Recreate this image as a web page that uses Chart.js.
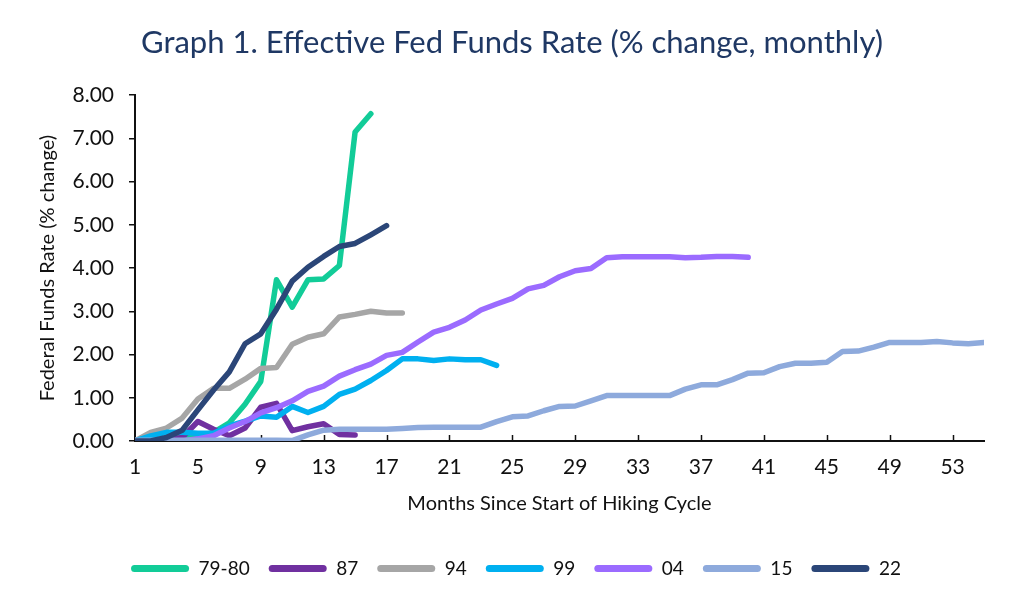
<!DOCTYPE html>
<html>
<head>
<meta charset="utf-8">
<script src="https://cdn.jsdelivr.net/npm/chart.js@4.4.1/dist/chart.umd.min.js"></script>
<style>
  html, body { margin: 0; padding: 0; background: #fff; }
  #wrap { width: 1024px; height: 606px; }
</style>
</head>
<body>
<div id="wrap"><canvas id="fedChart"></canvas></div>
<script>
// ===== DATA =====
const months = [1,2,3,4,5,6,7,8,9,10,11,12,13,14,15,16,17,18,19,20,21,22,23,24,25,26,27,28,
  29,30,31,32,33,34,35,36,37,38,39,40,41,42,43,44,45,46,47,48,49,50,51,52,53,54,55];
const xTickVals = [1,5,9,13,17,21,25,29,33,37,41,45,49,53];
const yTickVals = [0,1,2,3,4,5,6,7,8];

const seriesNames = ['79-80', '87', '94', '99', '04', '15', '22'];

const cycle7980 = [0, 0.02, 0.05, 0.1, 0.12, 0.2, 0.42, 0.85, 1.38, 3.73, 3.1, 3.73, 3.75, 4.06, 7.15, 7.57];
const cycle87 = [0, 0, 0.03, 0.08, 0.45, 0.27, 0.12, 0.3, 0.78, 0.87, 0.24, 0.33, 0.4, 0.15, 0.14];
const cycle94 = [0, 0.2, 0.3, 0.53, 0.97, 1.22, 1.22, 1.43, 1.68, 1.7, 2.24, 2.4, 2.48, 2.87, 2.93, 3.0, 2.96, 2.96];
const cycle99 = [0, 0.12, 0.2, 0.2, 0.18, 0.18, 0.35, 0.46, 0.58, 0.55, 0.8, 0.66, 0.8, 1.08, 1.2, 1.4,
  1.63, 1.9, 1.9, 1.86, 1.9, 1.88, 1.88, 1.75];
const cycle04 = [0, 0, 0, 0, 0.05, 0.12, 0.3, 0.45, 0.65, 0.77, 0.93, 1.15, 1.27, 1.5, 1.65, 1.78, 1.98,
  2.05, 2.29, 2.52, 2.63, 2.8, 3.03, 3.17, 3.3, 3.52, 3.6, 3.8, 3.94, 3.99, 4.24, 4.26, 4.26, 4.26, 4.26,
  4.24, 4.25, 4.27, 4.27, 4.25];
const cycle15 = [0.02, 0.02, 0.02, 0.02, 0.02, 0.02, 0.02, 0.02, 0.02, 0.02, 0.01, 0.14, 0.25, 0.27, 0.27,
  0.27, 0.27, 0.29, 0.31, 0.32, 0.32, 0.32, 0.32, 0.45, 0.56, 0.58, 0.7, 0.8, 0.81, 0.93, 1.05, 1.05, 1.05,
  1.05, 1.05, 1.2, 1.3, 1.3, 1.42, 1.57, 1.58, 1.72, 1.8, 1.8, 1.82, 2.07, 2.08, 2.17, 2.28, 2.28, 2.28,
  2.3, 2.27, 2.25, 2.28];
const cycle22 = [0, 0, 0.08, 0.25, 0.72, 1.18, 1.6, 2.25, 2.48, 3.05, 3.7, 4.02, 4.27, 4.5, 4.57, 4.77, 4.98];

const seriesValues = [cycle7980, cycle87, cycle94, cycle99, cycle04, cycle15, cycle22];
const seriesColors = ['#12CC98', '#7030A0', '#A6A6A6', '#00B0F0', '#9B6BFF', '#8EAADC', '#2B4678'];

// ===== STYLE =====
const FONT = 'Lato, "Open Sans", sans-serif';
const INK = '#111111';
const PLOT_LEFT = 135;
const CENTER_SHIFT = 20;   // reference centres title/legend over a wider box

// title/legend recentring + inward x tick marks (Excel style)
const innerTicks = {
  id: 'innerTicks',
  afterLayout(chart) {
    chart.titleBlock.left += CENTER_SHIFT; chart.titleBlock.right += CENTER_SHIFT;
    chart.legend.left += CENTER_SHIFT + 4; chart.legend.right += CENTER_SHIFT + 4;
  },
  beforeDatasetsDraw(chart) {
    const { ctx, scales: { x, y } } = chart;
    ctx.save();
    ctx.strokeStyle = INK;
    ctx.lineWidth = 1.5;
    xTickVals.slice(1).forEach(v => {
      const px = Math.round(x.getPixelForValue(v)) + 0.5;
      ctx.beginPath();
      ctx.moveTo(px, y.bottom);
      ctx.lineTo(px, y.bottom - 6);
      ctx.stroke();
    });
    ctx.restore();
  }
};

const datasets = seriesNames.map((name, i) => ({
  label: name,
  data: seriesValues[i].map((v, j) => ({ x: months[j], y: v })),
  borderColor: seriesColors[i],
  backgroundColor: seriesColors[i],
  borderWidth: 5.5,
  borderCapStyle: 'round',
  borderJoinStyle: 'round',
  pointRadius: 0,
  tension: 0,
  fill: false,
  order: seriesNames.length - i   // later series drawn on top
}));

new Chart(document.getElementById('fedChart'), {
  type: 'line',
  data: { datasets },
  plugins: [innerTicks],
  options: {
    responsive: true,
    maintainAspectRatio: false,
    animation: false,
    layout: { padding: { left: 0, right: 40, top: 0, bottom: 18 } },
    plugins: {
      tooltip: { enabled: false },
      title: {
        display: true,
        text: 'Graph 1. Effective Fed Funds Rate (% change, monthly)',
        color: '#1F3864',
        font: { family: FONT, size: 31, weight: 'normal' },
        padding: { top: 24, bottom: 34 }
      },
      legend: {
        position: 'bottom',
        labels: {
          color: INK,
          font: { family: FONT, size: 19 },
          boxWidth: 58,
          boxHeight: 7,
          padding: 19,
          useBorderRadius: true,
          borderRadius: 3.5,
          sort: (a, b) => a.datasetIndex - b.datasetIndex,
          generateLabels(chart) {
            return Chart.defaults.plugins.legend.labels.generateLabels(chart).map(item => {
              item.lineWidth = 0;
              item.fillStyle = seriesColors[item.datasetIndex];
              return item;
            });
          }
        }
      }
    },
    scales: {
      x: {
        type: 'linear',
        min: months[0],
        max: months[months.length - 1],
        afterBuildTicks: s => { s.ticks = xTickVals.map(v => ({ value: v })); },
        afterFit: s => { s.height = 99; },
        grid: { display: false, drawTicks: false },
        border: { display: true, color: INK, width: 2 },
        ticks: { color: INK, font: { family: FONT, size: 21 }, padding: 14, maxRotation: 0, autoSkip: false },
        title: {
          display: true,
          text: 'Months Since Start of Hiking Cycle',
          color: INK,
          font: { family: FONT, size: 20 },
          padding: { top: 0, bottom: 24 }
        }
      },
      y: {
        min: 0,
        max: 8,
        afterBuildTicks: s => { s.ticks = yTickVals.map(v => ({ value: v })); },
        afterFit: s => { s.width = PLOT_LEFT; },
        grid: { display: true, drawOnChartArea: false, drawTicks: true, tickLength: 6, color: INK, lineWidth: 1.5 },
        border: { display: true, color: INK, width: 2 },
        ticks: { color: INK, font: { family: FONT, size: 21 }, padding: 15, callback: v => v.toFixed(2) },
        title: {
          display: true,
          text: 'Federal Funds Rate (% change)',
          color: INK,
          font: { family: FONT, size: 20 },
          padding: { top: 36, bottom: 0 }
        }
      }
    }
  }
});
</script>
</body>
</html>
